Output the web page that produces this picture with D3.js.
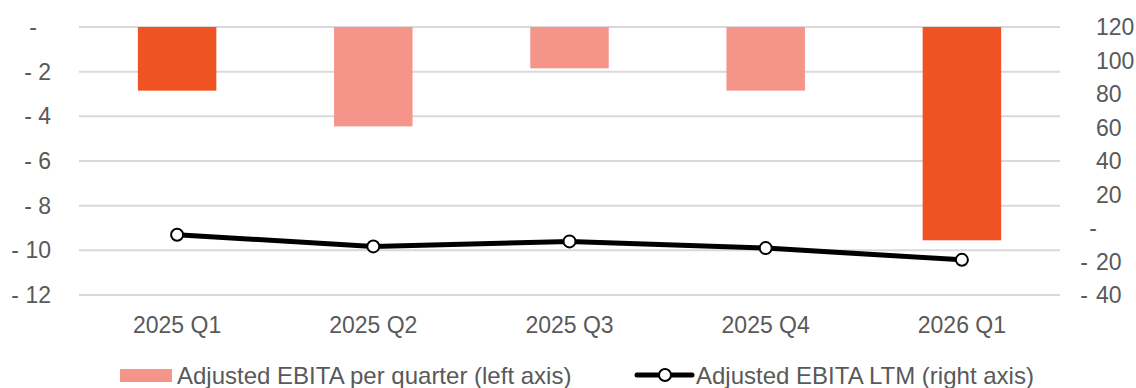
<!DOCTYPE html>
<html>
<head>
<meta charset="utf-8">
<script src="https://cdn.jsdelivr.net/npm/d3@7"></script>
<style>
  body { margin: 0; background: #fff; }
  text { font-family: "Liberation Sans", Arial, sans-serif; fill: #595959; }
</style>
</head>
<body>
<div id="chart"></div>
<script>
// data
var quarters = [ '2025 Q1', '2025 Q2', '2025 Q3', '2025 Q4', '2026 Q1' ];
var ebitaQuarter = [ -2.85, -4.45, -1.85, -2.85, -9.55 ];
var ebitaLtm = [ -4, -11, -8, -12, -19 ];
var highlight = [ true, false, false, false, true ];
var leftTicks = [ 0, -2, -4, -6, -8, -10, -12 ];
var rightTicks = [ 120, 100, 80, 60, 40, 20, 0, -20, -40 ];

var width = 1136;
var height = 388;
var margin = { left: 79, right: 76, top: 27, bottom: 93 };
var fontSize = 23;

var svg = d3.select( '#chart' )
            .append( 'svg' )
            .attr( 'width', width )
            .attr( 'height', height );

var x = d3.scaleBand()
          .domain( quarters )
          .range( [ margin.left, width - margin.right ] )
          .paddingInner( 0.6 )
          .paddingOuter( 0.3 );

var yLeft = d3.scaleLinear()
              .domain( [ -12, 0 ] )
              .range( [ height - margin.bottom, margin.top ] );

var yRight = d3.scaleLinear()
               .domain( [ -40, 120 ] )
               .range( [ height - margin.bottom, margin.top ] );

// grid
svg.selectAll( '.grid' )
   .data( leftTicks )
   .enter()
   .append( 'line' )
   .attr( 'x1', margin.left )
   .attr( 'x2', width - margin.right )
   .attr( 'y1', function( d ) { return yLeft( d ); } )
   .attr( 'y2', function( d ) { return yLeft( d ); } )
   .attr( 'stroke', '#d9d9d9' )
   .attr( 'stroke-width', 2 );

// left axis labels
svg.selectAll( '.lt' )
   .data( leftTicks )
   .enter()
   .append( 'text' )
   .attr( 'x', function( d ) { return d == 0 ? 37 : 51; } )
   .attr( 'y', function( d ) { return yLeft( d ) + 8; } )
   .attr( 'text-anchor', 'end' )
   .attr( 'font-size', fontSize )
   .text( function( d ) { return d == 0 ? '-' : '- ' + Math.abs( d ); } );

// right axis labels
var rt = svg.selectAll( '.rt' )
            .data( rightTicks )
            .enter()
            .append( 'g' )
            .attr( 'transform', function( d ) { return 'translate(1096,' + ( yRight( d ) + 8 ) + ')'; } );

rt.append( 'text' )
  .attr( 'font-size', fontSize )
  .text( function( d ) { return d == 0 ? '' : Math.abs( d ); } );

rt.append( 'text' )
  .attr( 'x', function( d ) { return d == 0 ? 1 : -8; } )
  .attr( 'text-anchor', 'end' )
  .attr( 'font-size', fontSize )
  .text( function( d ) { return d <= 0 ? '-' : ''; } );

// bars
svg.selectAll( '.bar' )
   .data( quarters )
   .enter()
   .append( 'rect' )
   .attr( 'x', function( d ) { return x( d ); } )
   .attr( 'y', yLeft( 0 ) )
   .attr( 'width', x.bandwidth() )
   .attr( 'height', function( d, i ) { return yLeft( ebitaQuarter[ i ] ) - yLeft( 0 ); } )
   .attr( 'fill', function( d, i ) { return highlight[ i ] ? '#f05323' : '#f5958a'; } );

// line
var line = d3.line()
             .x( function( d, i ) { return x( quarters[ i ] ) + x.bandwidth() / 2; } )
             .y( function( d ) { return yRight( d ); } );

svg.append( 'path' )
   .datum( ebitaLtm )
   .attr( 'd', line )
   .attr( 'fill', 'none' )
   .attr( 'stroke', '#000' )
   .attr( 'stroke-width', 5 );

svg.selectAll( '.pt' )
   .data( ebitaLtm )
   .enter()
   .append( 'circle' )
   .attr( 'cx', function( d, i ) { return x( quarters[ i ] ) + x.bandwidth() / 2; } )
   .attr( 'cy', function( d ) { return yRight( d ); } )
   .attr( 'r', 6 )
   .attr( 'fill', '#fff' )
   .attr( 'stroke', '#000' )
   .attr( 'stroke-width', 2 );

// x labels
svg.selectAll( '.xl' )
   .data( quarters )
   .enter()
   .append( 'text' )
   .attr( 'x', function( d ) { return x( d ) + x.bandwidth() / 2; } )
   .attr( 'y', 333 )
   .attr( 'text-anchor', 'middle' )
   .attr( 'font-size', fontSize )
   .text( function( d ) { return d; } );

// legend
svg.append( 'rect' )
   .attr( 'x', 120 )
   .attr( 'y', 369 )
   .attr( 'width', 52 )
   .attr( 'height', 13 )
   .attr( 'fill', '#f5958a' );

svg.append( 'text' )
   .attr( 'x', 177 )
   .attr( 'y', 384 )
   .attr( 'font-size', 24 )
   .text( 'Adjusted EBITA per quarter (left axis)' );

svg.append( 'line' )
   .attr( 'x1', 637 )
   .attr( 'x2', 692 )
   .attr( 'y1', 375 )
   .attr( 'y2', 375 )
   .attr( 'stroke', '#000' )
   .attr( 'stroke-width', 5 )
   .attr( 'stroke-linecap', 'round' );

svg.append( 'circle' )
   .attr( 'cx', 665 )
   .attr( 'cy', 375 )
   .attr( 'r', 6 )
   .attr( 'fill', '#fff' )
   .attr( 'stroke', '#000' )
   .attr( 'stroke-width', 2 );

svg.append( 'text' )
   .attr( 'x', 696 )
   .attr( 'y', 384 )
   .attr( 'font-size', 24 )
   .text( 'Adjusted EBITA LTM (right axis)' );
</script>
</body>
</html>
